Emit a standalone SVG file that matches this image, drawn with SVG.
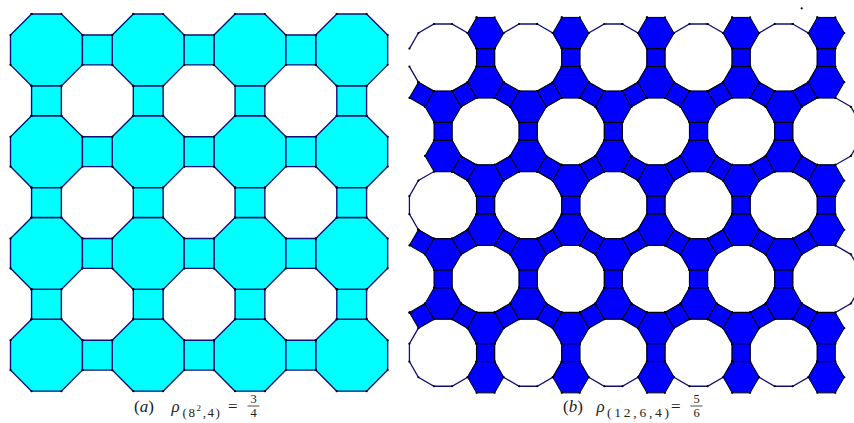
<svg xmlns="http://www.w3.org/2000/svg" xmlns:xlink="http://www.w3.org/1999/xlink" width="854" height="423" viewBox="0 0 854 423">
<defs>
<style>
.cap{font-family:"Liberation Serif","DejaVu Serif",serif;fill:#222;}
</style>
<marker id="dot" markerUnits="userSpaceOnUse" markerWidth="4" markerHeight="4" refX="2" refY="2" overflow="visible"><circle cx="2" cy="2" r="1.1" fill="#000"/></marker>
<polygon id="oct" points="21.07,0 50.87,0 71.94,21.07 71.94,50.87 50.87,71.94 21.07,71.94 0,50.87 0,21.07" fill="#00ffff" stroke="#10107a" stroke-width="1.4" stroke-linejoin="round" marker-start="url(#dot)" marker-mid="url(#dot)" marker-end="url(#dot)"/>
<polygon id="sqa" points="0,0 29.8,0 29.8,29.8 0,29.8" fill="#00ffff" stroke="#10107a" stroke-width="1.4" stroke-linejoin="round" marker-start="url(#dot)" marker-mid="url(#dot)" marker-end="url(#dot)"/>
<polygon id="dod" points="9,-33.58 24.59,-24.59 33.58,-9 33.58,9 24.59,24.59 9,33.58 -9,33.58 -24.59,24.59 -33.58,9 -33.58,-9 -24.59,-24.59 -9,-33.58" fill="#fff" stroke="#10107a" stroke-width="1.3" marker-start="url(#dot)" marker-mid="url(#dot)" marker-end="url(#dot)"/>
<polyline id="dodo" points="-33.58,-9 -24.59,-24.59 -9,-33.58 9,-33.58 24.59,-24.59 33.58,-9 33.58,9 24.59,24.59 9,33.58 -9,33.58 -24.59,24.59 -33.58,9" fill="#fff" stroke="#10107a" stroke-width="1.3" marker-start="url(#dot)" marker-mid="url(#dot)" marker-end="url(#dot)"/>
<polygon id="hx" points="-9,-15.59 9,-15.59 18,0 9,15.59 -9,15.59 -18,0" fill="#0000ff" stroke="#000" stroke-width="1" stroke-linejoin="round" marker-start="url(#dot)" marker-mid="url(#dot)" marker-end="url(#dot)"/>
<polygon id="sq" points="-9,-9 9,-9 9,9 -9,9" fill="#0000ff" stroke="#000" stroke-width="1" stroke-linejoin="round" marker-start="url(#dot)" marker-mid="url(#dot)" marker-end="url(#dot)"/>
</defs>
<rect width="854" height="423" fill="#fff"/>

<g id="panel-a">
<g id="a-octagons">
<use id="a-o11" href="#oct" x="10.5" y="14"/><use id="a-o12" href="#oct" x="112.24" y="14"/><use id="a-o13" href="#oct" x="213.98" y="14"/><use id="a-o14" href="#oct" x="315.72" y="14"/>
<use id="a-o21" href="#oct" x="10.5" y="115.74"/><use id="a-o22" href="#oct" x="112.24" y="115.74"/><use id="a-o23" href="#oct" x="213.98" y="115.74"/><use id="a-o24" href="#oct" x="315.72" y="115.74"/>
<use id="a-o31" href="#oct" x="10.5" y="217.48"/><use id="a-o32" href="#oct" x="112.24" y="217.48"/><use id="a-o33" href="#oct" x="213.98" y="217.48"/><use id="a-o34" href="#oct" x="315.72" y="217.48"/>
<use id="a-o41" href="#oct" x="10.5" y="319.22"/><use id="a-o42" href="#oct" x="112.24" y="319.22"/><use id="a-o43" href="#oct" x="213.98" y="319.22"/><use id="a-o44" href="#oct" x="315.72" y="319.22"/>
</g>
<g id="a-squares">
<use id="a-h11" href="#sqa" x="82.44" y="35.07"/><use id="a-h12" href="#sqa" x="184.18" y="35.07"/><use id="a-h13" href="#sqa" x="285.92" y="35.07"/>
<use id="a-h21" href="#sqa" x="82.44" y="136.81"/><use id="a-h22" href="#sqa" x="184.18" y="136.81"/><use id="a-h23" href="#sqa" x="285.92" y="136.81"/>
<use id="a-h31" href="#sqa" x="82.44" y="238.55"/><use id="a-h32" href="#sqa" x="184.18" y="238.55"/><use id="a-h33" href="#sqa" x="285.92" y="238.55"/>
<use id="a-h41" href="#sqa" x="82.44" y="340.29"/><use id="a-h42" href="#sqa" x="184.18" y="340.29"/><use id="a-h43" href="#sqa" x="285.92" y="340.29"/>
<use id="a-v11" href="#sqa" x="31.57" y="85.94"/><use id="a-v12" href="#sqa" x="133.31" y="85.94"/><use id="a-v13" href="#sqa" x="235.05" y="85.94"/><use id="a-v14" href="#sqa" x="336.79" y="85.94"/>
<use id="a-v21" href="#sqa" x="31.57" y="187.68"/><use id="a-v22" href="#sqa" x="133.31" y="187.68"/><use id="a-v23" href="#sqa" x="235.05" y="187.68"/><use id="a-v24" href="#sqa" x="336.79" y="187.68"/>
<use id="a-v31" href="#sqa" x="31.57" y="289.42"/><use id="a-v32" href="#sqa" x="133.31" y="289.42"/><use id="a-v33" href="#sqa" x="235.05" y="289.42"/><use id="a-v34" href="#sqa" x="336.79" y="289.42"/>
</g>
</g>

<g id="panel-b">
<g id="b-dodecagons">
<use id="b-d10" href="#dodo" x="443" y="57.6"/><use id="b-d11" href="#dod" x="528.18" y="57.6"/><use id="b-d12" href="#dod" x="613.36" y="57.6"/><use id="b-d13" href="#dod" x="698.54" y="57.6"/><use id="b-d14" href="#dod" x="783.72" y="57.6"/>
<use id="b-d20" href="#dod" x="485.59" y="131.37"/><use id="b-d21" href="#dod" x="570.77" y="131.37"/><use id="b-d22" href="#dod" x="655.95" y="131.37"/><use id="b-d23" href="#dod" x="741.13" y="131.37"/><use id="b-d24" href="#dod" x="826.31" y="131.37"/>
<use id="b-d30" href="#dod" x="443" y="205.14"/><use id="b-d31" href="#dod" x="528.18" y="205.14"/><use id="b-d32" href="#dod" x="613.36" y="205.14"/><use id="b-d33" href="#dod" x="698.54" y="205.14"/><use id="b-d34" href="#dod" x="783.72" y="205.14"/>
<use id="b-d40" href="#dod" x="485.59" y="278.91"/><use id="b-d41" href="#dod" x="570.77" y="278.91"/><use id="b-d42" href="#dod" x="655.95" y="278.91"/><use id="b-d43" href="#dod" x="741.13" y="278.91"/><use id="b-d44" href="#dod" x="826.31" y="278.91"/>
<use id="b-d50" href="#dod" x="443" y="352.68"/><use id="b-d51" href="#dod" x="528.18" y="352.68"/><use id="b-d52" href="#dod" x="613.36" y="352.68"/><use id="b-d53" href="#dod" x="698.54" y="352.68"/><use id="b-d54" href="#dod" x="783.72" y="352.68"/>
</g>
<g id="b-squares">
<use id="b-s10" href="#sq" x="485.59" y="57.6"/><use id="b-s11" href="#sq" x="570.77" y="57.6"/><use id="b-s12" href="#sq" x="655.95" y="57.6"/><use id="b-s13" href="#sq" x="741.13" y="57.6"/><use id="b-s14" href="#sq" x="826.31" y="57.6"/>
<use id="b-s20" href="#sq" x="443" y="131.37"/><use id="b-s21" href="#sq" x="528.18" y="131.37"/><use id="b-s22" href="#sq" x="613.36" y="131.37"/><use id="b-s23" href="#sq" x="698.54" y="131.37"/><use id="b-s24" href="#sq" x="783.72" y="131.37"/>
<use id="b-s30" href="#sq" x="485.59" y="205.14"/><use id="b-s31" href="#sq" x="570.77" y="205.14"/><use id="b-s32" href="#sq" x="655.95" y="205.14"/><use id="b-s33" href="#sq" x="741.13" y="205.14"/><use id="b-s34" href="#sq" x="826.31" y="205.14"/>
<use id="b-s40" href="#sq" x="443" y="278.91"/><use id="b-s41" href="#sq" x="528.18" y="278.91"/><use id="b-s42" href="#sq" x="613.36" y="278.91"/><use id="b-s43" href="#sq" x="698.54" y="278.91"/><use id="b-s44" href="#sq" x="783.72" y="278.91"/>
<use id="b-s50" href="#sq" x="485.59" y="352.68"/><use id="b-s51" href="#sq" x="570.77" y="352.68"/><use id="b-s52" href="#sq" x="655.95" y="352.68"/><use id="b-s53" href="#sq" x="741.13" y="352.68"/><use id="b-s54" href="#sq" x="826.31" y="352.68"/>

<use id="b-g1-0" href="#sq" transform="translate(421.7,94.49) rotate(30)"/><use id="b-g1-1" href="#sq" transform="translate(464.29,94.49) rotate(-30)"/><use id="b-g1-2" href="#sq" transform="translate(506.88,94.49) rotate(30)"/><use id="b-g1-3" href="#sq" transform="translate(549.47,94.49) rotate(-30)"/><use id="b-g1-4" href="#sq" transform="translate(592.06,94.49) rotate(30)"/><use id="b-g1-5" href="#sq" transform="translate(634.65,94.49) rotate(-30)"/><use id="b-g1-6" href="#sq" transform="translate(677.24,94.49) rotate(30)"/><use id="b-g1-7" href="#sq" transform="translate(719.83,94.49) rotate(-30)"/><use id="b-g1-8" href="#sq" transform="translate(762.42,94.49) rotate(30)"/><use id="b-g1-9" href="#sq" transform="translate(805.01,94.49) rotate(-30)"/>

<use id="b-g2-1" href="#sq" transform="translate(464.29,168.26) rotate(30)"/><use id="b-g2-2" href="#sq" transform="translate(506.88,168.26) rotate(-30)"/><use id="b-g2-3" href="#sq" transform="translate(549.47,168.26) rotate(30)"/><use id="b-g2-4" href="#sq" transform="translate(592.06,168.26) rotate(-30)"/><use id="b-g2-5" href="#sq" transform="translate(634.65,168.26) rotate(30)"/><use id="b-g2-6" href="#sq" transform="translate(677.24,168.26) rotate(-30)"/><use id="b-g2-7" href="#sq" transform="translate(719.83,168.26) rotate(30)"/><use id="b-g2-8" href="#sq" transform="translate(762.42,168.26) rotate(-30)"/><use id="b-g2-9" href="#sq" transform="translate(805.01,168.26) rotate(30)"/>

<use id="b-g3-0" href="#sq" transform="translate(421.7,242.03) rotate(30)"/><use id="b-g3-1" href="#sq" transform="translate(464.29,242.03) rotate(-30)"/><use id="b-g3-2" href="#sq" transform="translate(506.88,242.03) rotate(30)"/><use id="b-g3-3" href="#sq" transform="translate(549.47,242.03) rotate(-30)"/><use id="b-g3-4" href="#sq" transform="translate(592.06,242.03) rotate(30)"/><use id="b-g3-5" href="#sq" transform="translate(634.65,242.03) rotate(-30)"/><use id="b-g3-6" href="#sq" transform="translate(677.24,242.03) rotate(30)"/><use id="b-g3-7" href="#sq" transform="translate(719.83,242.03) rotate(-30)"/><use id="b-g3-8" href="#sq" transform="translate(762.42,242.03) rotate(30)"/><use id="b-g3-9" href="#sq" transform="translate(805.01,242.03) rotate(-30)"/>

<use id="b-g4-0" href="#sq" transform="translate(421.7,315.8) rotate(-30)"/><use id="b-g4-1" href="#sq" transform="translate(464.29,315.8) rotate(30)"/><use id="b-g4-2" href="#sq" transform="translate(506.88,315.8) rotate(-30)"/><use id="b-g4-3" href="#sq" transform="translate(549.47,315.8) rotate(30)"/><use id="b-g4-4" href="#sq" transform="translate(592.06,315.8) rotate(-30)"/><use id="b-g4-5" href="#sq" transform="translate(634.65,315.8) rotate(30)"/><use id="b-g4-6" href="#sq" transform="translate(677.24,315.8) rotate(-30)"/><use id="b-g4-7" href="#sq" transform="translate(719.83,315.8) rotate(30)"/><use id="b-g4-8" href="#sq" transform="translate(762.42,315.8) rotate(-30)"/><use id="b-g4-9" href="#sq" transform="translate(805.01,315.8) rotate(30)"/>
</g>
<g id="b-hexagons">
<use id="b-h1a0" href="#hx" x="485.59" y="33.01"/><use id="b-h1a1" href="#hx" x="570.77" y="33.01"/><use id="b-h1a2" href="#hx" x="655.95" y="33.01"/><use id="b-h1a3" href="#hx" x="741.13" y="33.01"/><use id="b-h1a4" href="#hx" x="826.31" y="33.01"/>
<use id="b-h1b0" href="#hx" x="485.59" y="82.19"/><use id="b-h1b1" href="#hx" x="570.77" y="82.19"/><use id="b-h1b2" href="#hx" x="655.95" y="82.19"/><use id="b-h1b3" href="#hx" x="741.13" y="82.19"/><use id="b-h1b4" href="#hx" x="826.31" y="82.19"/>
<use id="b-h2a0" href="#hx" x="443" y="106.78"/><use id="b-h2a1" href="#hx" x="528.18" y="106.78"/><use id="b-h2a2" href="#hx" x="613.36" y="106.78"/><use id="b-h2a3" href="#hx" x="698.54" y="106.78"/><use id="b-h2a4" href="#hx" x="783.72" y="106.78"/>
<use id="b-h2b0" href="#hx" x="443" y="155.96"/><use id="b-h2b1" href="#hx" x="528.18" y="155.96"/><use id="b-h2b2" href="#hx" x="613.36" y="155.96"/><use id="b-h2b3" href="#hx" x="698.54" y="155.96"/><use id="b-h2b4" href="#hx" x="783.72" y="155.96"/>
<use id="b-h3a0" href="#hx" x="485.59" y="180.55"/><use id="b-h3a1" href="#hx" x="570.77" y="180.55"/><use id="b-h3a2" href="#hx" x="655.95" y="180.55"/><use id="b-h3a3" href="#hx" x="741.13" y="180.55"/><use id="b-h3a4" href="#hx" x="826.31" y="180.55"/>
<use id="b-h3b0" href="#hx" x="485.59" y="229.73"/><use id="b-h3b1" href="#hx" x="570.77" y="229.73"/><use id="b-h3b2" href="#hx" x="655.95" y="229.73"/><use id="b-h3b3" href="#hx" x="741.13" y="229.73"/><use id="b-h3b4" href="#hx" x="826.31" y="229.73"/>
<use id="b-h4a0" href="#hx" x="443" y="254.32"/><use id="b-h4a1" href="#hx" x="528.18" y="254.32"/><use id="b-h4a2" href="#hx" x="613.36" y="254.32"/><use id="b-h4a3" href="#hx" x="698.54" y="254.32"/><use id="b-h4a4" href="#hx" x="783.72" y="254.32"/>
<use id="b-h4b0" href="#hx" x="443" y="303.5"/><use id="b-h4b1" href="#hx" x="528.18" y="303.5"/><use id="b-h4b2" href="#hx" x="613.36" y="303.5"/><use id="b-h4b3" href="#hx" x="698.54" y="303.5"/><use id="b-h4b4" href="#hx" x="783.72" y="303.5"/>
<use id="b-h5a0" href="#hx" x="485.59" y="328.09"/><use id="b-h5a1" href="#hx" x="570.77" y="328.09"/><use id="b-h5a2" href="#hx" x="655.95" y="328.09"/><use id="b-h5a3" href="#hx" x="741.13" y="328.09"/><use id="b-h5a4" href="#hx" x="826.31" y="328.09"/>
<use id="b-h5b0" href="#hx" x="485.59" y="377.27"/><use id="b-h5b1" href="#hx" x="570.77" y="377.27"/><use id="b-h5b2" href="#hx" x="655.95" y="377.27"/><use id="b-h5b3" href="#hx" x="741.13" y="377.27"/><use id="b-h5b4" href="#hx" x="826.31" y="377.27"/>
</g>
<circle id="b-stray-dot" cx="801.7" cy="8.3" r="1.1" fill="#000"/>
</g>

<g id="connectors"/>

<g id="caption-a" class="cap">
<text x="134" y="412" font-size="17">(<tspan font-style="italic">a</tspan>)</text>
<text x="171.5" y="412" font-size="17" font-style="italic">ρ</text>
<text x="182.5" y="417" font-size="13" letter-spacing="1.6">(8<tspan font-size="9" dy="-6">2</tspan><tspan dy="6">,4)</tspan></text>
<text x="228" y="412" font-size="17">=</text>
<text x="253.5" y="403" font-size="12.5" text-anchor="middle">3</text>
<line x1="247.5" y1="406" x2="259.5" y2="406" stroke="#222" stroke-width="0.8"/>
<text x="253.5" y="417" font-size="12.5" text-anchor="middle">4</text>
</g>

<g id="caption-b" class="cap">
<text x="563" y="412" font-size="17">(<tspan font-style="italic">b</tspan>)</text>
<text x="596.5" y="412" font-size="17" font-style="italic">ρ</text>
<text x="607" y="417" font-size="13.5" textLength="62" lengthAdjust="spacing">(12,6,4)</text>
<text x="671" y="412" font-size="17">=</text>
<text x="696.5" y="403" font-size="12.5" text-anchor="middle">5</text>
<line x1="690.5" y1="406" x2="702.5" y2="406" stroke="#222" stroke-width="0.8"/>
<text x="696.5" y="417" font-size="12.5" text-anchor="middle">6</text>
</g>
</svg>
